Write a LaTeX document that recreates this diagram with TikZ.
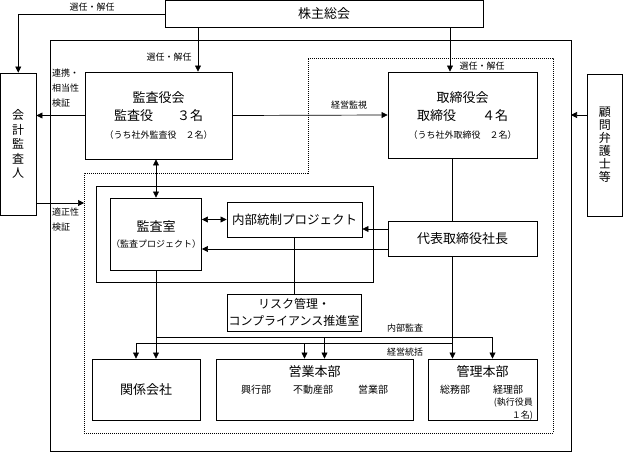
\documentclass[tikz,border=0pt]{standalone}
\usepackage{fontspec}
\setmainfont{Noto Sans CJK JP}
\usetikzlibrary{arrows.meta}
\usetikzlibrary{positioning}
\usetikzlibrary{calc}
\usetikzlibrary{math}

\begin{document}
\begin{tikzpicture}[x=1pt,y=-1pt,
  box/.style={draw, line width=0.9pt, inner sep=0pt, align=center,
    font=\fontsize{13}{18}\selectfont},
  lbl/.style={inner sep=0pt, font=\fontsize{9}{15}\selectfont},
  sub/.style={inner sep=0pt, font=\fontsize{10}{13}\selectfont},
  ln/.style={line width=0.7pt},
  arr/.style={ln, -{Triangle[length=6pt,width=6pt]}},
  dbl/.style={ln, {Triangle[length=6pt,width=6pt]}-{Triangle[length=6pt,width=6pt]}},
]

  \tikzmath{
    \dx = 10; % offset of the arrows into the lower boxes
  }

  \useasboundingbox (0,0) rectangle (623,452);

  % Position of the frames and of the two horizontal lines
  \coordinate (outerNW) at (50,40);
  \coordinate (outerSE) at (571,451);
  \coordinate (tekisei) at (84,203);
  \coordinate (naikan)  at (0,337);
  \coordinate (tokatsu) at (0,343);
  \coordinate (selA)    at (198,0);
  \coordinate (selB)    at (450,0);

  % frames
  \draw[ln] (outerNW) rectangle (outerSE);
  \draw[ln, dash pattern=on 1pt off 1pt]
    (308,58) -- (553,58) -- (553,433) -- (84,433) -- (84,173) -- (308,173) -- cycle;
  \draw[ln] (96,186) rectangle (373,282);

  % boxes
  \node[box, minimum width=318pt, minimum height=27pt] (kabu) at (324,14) {株主総会};
  \node[box, minimum width=35.5pt, minimum height=142pt,
    font=\fontsize{12}{14.5}\selectfont] (kaikei) at (18.25,144) {会\\計\\監\\査\\人};
  \node[box, minimum width=35.5pt, minimum height=142pt,
    font=\fontsize{12}{13}\selectfont] (komon) at (604.75,145) {顧\\問\\弁\\護\\士\\等};

  \node[box, minimum width=147pt, minimum height=87pt] (kansayakukai) at (158.5,115.5)
    {監査役会\\監査役\hspace{24pt}３名\\{\fontsize{9}{18}\selectfont （うち社外監査役　２名）}};
  \node[box, minimum width=149pt, minimum height=86pt] (torishimari) at (462.5,115)
    {取締役会\\取締役\hspace{26pt}４名\\{\fontsize{9}{18}\selectfont （うち社外取締役　２名）}};

  \node[box, minimum width=91pt, minimum height=72pt,
    font=\fontsize{13}{16}\selectfont] (kansashitsu) at (156,234)
    {監査室\\{\fontsize{9}{16}\selectfont （監査プロジェクト）}};
  \node[box, minimum width=135pt, minimum height=35pt,
    font=\fontsize{12.5}{15}\selectfont] (naibu) at (294.5,219.5) {内部統制プロジェクト};
  \node[box, minimum width=149pt, minimum height=35pt] (daihyo) at (462.5,238.5) {代表取締役社長};
  \node[box, minimum width=134pt, minimum height=37pt,
    font=\fontsize{12}{17}\selectfont] (risk) at (294,312.5) {リスク管理・\\コンプライアンス推進室};

  \node[box, minimum width=108pt, minimum height=61pt] (kankei) at (146,389.5) {関係会社};
  \node[box, minimum width=197pt, minimum height=61pt] (eigyo) at (314.5,389.5) {};
  \node[box, minimum width=109pt, minimum height=61pt] (kanri) at (482.5,389.5) {};

  % texts of the lower boxes
  \node[inner sep=0pt, font=\fontsize{13}{15}\selectfont] (eigyoT) at (314.5,372) {営業本部};
  \node[sub] (kogyo)   at (256,390) {興行部};
  \node[sub] (fudosan) at (313,390) {不動産部};
  \node[sub] (eigyobu) at (373,390) {営業部};
  \node[inner sep=0pt, font=\fontsize{13}{15}\selectfont] (kanriT) at (482.5,372) {管理本部};
  \node[sub] (somu) at (455,390) {総務部};
  \node[sub] (keiri) at (508,390) {経理部};
  \node[lbl, align=right, anchor=north east, font=\fontsize{9}{13}\selectfont]
    (shikko) at (533,398) {(執行役員\\１名)};

  % election by the general meeting
  \draw[arr] (kabu.west) -| (kaikei.north);
  \node[lbl] (senA) at (92,7) {選任・解任};
  \draw[arr] (kabu.south -| selA) -- (kansayakukai.north -| selA);
  \node[lbl] (senB) at (169,57) {選任・解任};
  \draw[arr] (kabu.south -| selB) -- (torishimari.north -| selB);
  \node[lbl] (senC) at (482,66) {選任・解任};

  % audit board
  \draw[arr] (kansayakukai.west) -- (kansayakukai.west -| kaikei.east);
  \node[lbl, align=left, anchor=north west] (renkei) at (52,69) {連携・\\相当性\\検証};
  \draw[arr] (kansayakukai.east) -- (torishimari.west);
  \node[lbl] (kanshi) at (349,105) {経営監視};
  \draw[arr] (komon.west |- torishimari.west) -- (outerSE |- torishimari.west);
  \draw[arr] (kaikei.east |- tekisei) -- (tekisei);
  \node[lbl, align=left, anchor=north west] (tekiseiT) at (52,208) {適正性\\検証};
  \draw[dbl] (kansayakukai.south -| kansashitsu.north) -- (kansashitsu.north);

  % president
  \draw[ln] (torishimari.south -| daihyo.south) ++(-\dx,0) coordinate (tate)
    -- (daihyo.north -| tate);
  \draw[dbl] (kansashitsu.east |- naibu.west) -- (naibu.west);
  \draw[arr] ([yshift=9.5pt]daihyo.west) -- ([yshift=9.5pt]daihyo.west -| naibu.east);
  \draw[arr] ([yshift=-10.5pt]daihyo.west) -- ([yshift=-10.5pt]daihyo.west -| kansashitsu.east);
  \draw[ln] (naibu.south) -- (risk.north -| naibu.south);

  % internal audit
  \draw[arr] (kansashitsu.south) -- (kansashitsu.south |- kankei.north);
  \draw[arr] (kansashitsu.south |- naikan) -| ([xshift=\dx]kanri.north);
  \draw[arr] ([xshift=\dx]eigyo.north |- naikan) -- ([xshift=\dx]eigyo.north);
  \node[lbl] (naikanT) at (405,328) {内部監査};

  % management
  \draw[arr] (daihyo.south -| tate) -- (kanri.north -| tate);
  \draw[arr] (tate |- tokatsu) -| ([xshift=-\dx]kankei.north);
  \draw[arr] ([xshift=-\dx]eigyo.north |- tokatsu) -- ([xshift=-\dx]eigyo.north);
  \node[lbl] (tokatsuT) at (405,352) {経営統括};

\end{tikzpicture}
\end{document}
